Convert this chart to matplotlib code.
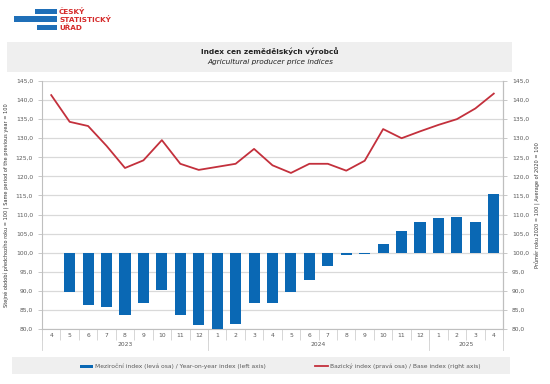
import numpy as np
import matplotlib
matplotlib.use("Agg")
import matplotlib.pyplot as plt
from matplotlib.patches import Rectangle
from matplotlib.lines import Line2D
import matplotlib.transforms as mtransforms

months = ["4", "5", "6", "7", "8", "9", "10", "11", "12",
          "1", "2", "3", "4", "5", "6", "7", "8", "9", "10", "11", "12",
          "1", "2", "3", "4"]
years = ["2023", "2024", "2025"]
year_spans = [(0, 8), (9, 20), (21, 24)]
yoy_index = [np.nan, 89.8, 86.2, 85.8, 83.7, 86.7, 90.2, 83.7, 81.0,
             80.1, 81.4, 86.9, 86.7, 89.8, 92.8, 96.5, 99.5, 99.7, 102.3,
             105.6, 108.1, 109.1, 109.3, 108.1, 115.5]
base_index = [141.3, 134.3, 133.2, 128.0, 122.2, 124.2, 129.5, 123.3, 121.7,
              122.5, 123.3, 127.2, 122.9, 120.9, 123.3, 123.3, 121.5, 124.1,
              132.4, 130.0, 131.8, 133.5, 135.0, 137.8, 141.7]
yticks = [80, 85, 90, 95, 100, 105, 110, 115, 120, 125, 130, 135, 140, 145]

BLUE = "#0a68b4"
RED = "#c3303c"
GRID = "#d9d9d9"
TXT = "#595959"

W, H = 550, 384
fig = plt.figure(figsize=(W / 100, H / 100), dpi=100)
fig.patch.set_facecolor("white")

def fx(px):
    return px / W

def fy(py):
    return 1 - py / H

# logo
for (x0, x1, y0, y1) in [(35, 57, 9, 13.5), (14, 57, 16.5, 21.5), (37, 57, 25, 30)]:
    fig.patches.append(Rectangle((fx(x0), fy(y1)), fx(x1 - x0), (y1 - y0) / H,
                                 transform=fig.transFigure, color="#1f6fb8", lw=0))
for t, yy in [("ČESKÝ", 11.5), ("STATISTICKÝ", 19.5), ("ÚŘAD", 27.5)]:
    fig.text(fx(59), fy(yy), t, color="#d52b2b", fontsize=5.2, fontweight="bold",
             va="center", ha="left", family="DejaVu Sans")

# title box
fig.patches.append(Rectangle((fx(7), fy(72)), fx(505), 30 / H, transform=fig.transFigure,
                             color="#efefef", lw=0))
fig.text(fx(270), fy(51), "Index cen zemědělských výrobců", fontsize=5.3,
         fontweight="bold", ha="center", va="center", color="#222222")
fig.text(fx(270), fy(62), "Agricultural producer price indices", fontsize=5.3,
         style="italic", ha="center", va="center", color="#222222")

# legend box
fig.patches.append(Rectangle((fx(12), fy(374)), fx(498), 17 / H, transform=fig.transFigure,
                             color="#efefef", lw=0))

ax = fig.add_axes([fx(42), fy(329), fx(461), (329 - 81) / H])
x = np.arange(len(months))
vals = np.array(yoy_index, dtype=float)
ax.bar(x, vals - 100, bottom=100, width=0.6, color=BLUE, zorder=3)
ax.set_ylim(80, 145)
ax.set_xlim(-0.5, len(months) - 0.5)
ax.set_yticks(yticks)
ax.set_yticklabels([f"{v:.1f}".replace(".", ",") for v in yticks])
ax.grid(axis="y", color=GRID, lw=0.9, zorder=0)
ax.set_axisbelow(True)
for s in ["top"]:
    ax.spines[s].set_visible(False)
for s in ["left", "right", "bottom"]:
    ax.spines[s].set_color("#bfbfbf")
    ax.spines[s].set_linewidth(0.8)
ax.tick_params(axis="y", labelsize=4.3, colors="#bfbfbf", labelcolor=TXT, length=3, width=0.6)
ax.set_xticks(x)
ax.set_xticklabels(months)
ax.tick_params(axis="x", which="major", length=0, labelsize=4.3, labelcolor=TXT, pad=3)
ax.set_xticks(np.arange(-0.5, len(months)), minor=True)
ax.tick_params(axis="x", which="minor", length=8, color="#d0d0d0", width=0.6)

ax2 = ax.twinx()
ax2.plot(x, base_index, color=RED, lw=1.3, zorder=4)
ax2.set_ylim(80, 145)
ax2.set_yticks(yticks)
ax2.set_yticklabels([f"{v:.1f}".replace(".", ",") for v in yticks])
ax2.tick_params(axis="y", labelsize=4.3, colors="#bfbfbf", labelcolor=TXT, length=3, width=0.6)
for s in ["top", "left", "bottom"]:
    ax2.spines[s].set_visible(False)
ax2.spines["right"].set_color("#bfbfbf")
ax2.spines["right"].set_linewidth(0.8)

# year groups
trans = mtransforms.blended_transform_factory(ax.transData, ax.transAxes)
dy = 21 / (329 - 81)
for (a, b), yr in zip(year_spans, years):
    ax.text((a + b) / 2, -16 / (329 - 81), yr, transform=trans, ha="center", va="center",
            fontsize=4.3, color=TXT)
bounds = [-0.5] + [b + 0.5 for (_, b) in year_spans]
for bx in bounds:
    ax.add_line(Line2D([bx, bx], [0, -dy], transform=trans, color="#d0d0d0", lw=0.6,
                       clip_on=False))

ax.set_ylabel("Stejné období předchozího roku = 100 | Same period of the previous year = 100",
              fontsize=3.6, color="#333333", labelpad=4)
ax2.set_ylabel("Průměr roku 2020 = 100 | Average of 2020 = 100", fontsize=3.6,
               color="#333333", rotation=90, labelpad=4)

# legend
fig.patches.append(Rectangle((fx(80), fy(367.5)), fx(13), 2.5 / H, transform=fig.transFigure,
                             color=BLUE, lw=0))
fig.text(fx(95), fy(366), "Meziroční index (levá osa) / Year-on-year index (left axis)",
         fontsize=4.3, color=TXT, va="center", ha="left")
fig.lines.append(Line2D([fx(315), fx(328)], [fy(366), fy(366)], transform=fig.transFigure,
                        color=RED, lw=1.3))
fig.text(fx(330), fy(366), "Bazický index (pravá osa) / Base index (right axis)",
         fontsize=4.3, color=TXT, va="center", ha="left")

fig.savefig("out.png", dpi=100)
